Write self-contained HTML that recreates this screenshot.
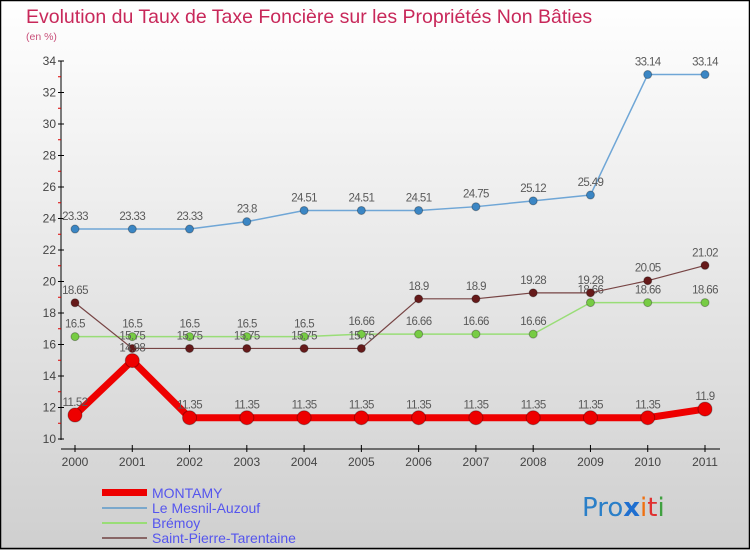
<!DOCTYPE html>
<html><head><meta charset="utf-8"><style>
body{margin:0}
#c{width:750px;height:550px;position:relative;overflow:hidden;background:linear-gradient(#ffffff,#cfcfcf);font-family:"Liberation Sans",sans-serif}
</style></head><body>
<div id="c">
<svg id="s" width="750" height="550" xmlns="http://www.w3.org/2000/svg">
<rect x="0.5" y="0.5" width="749" height="548" fill="none" stroke="#000" stroke-width="1.5"/>
<text x="26" y="23" font-size="19.5" fill="#c8285a">Evolution du Taux de Taxe Foncière sur les Propriétés Non Bâties</text>
<text x="26" y="40" font-size="10.5" fill="#c8507a">(en %)</text>
<g id="axes"></g><g id="series"></g>
<g>
<rect x="102" y="489" width="45" height="7" fill="#ee0000"/>
<text x="152" y="498" font-size="14" fill="#5555ee">MONTAMY</text>
<line x1="102" y1="508" x2="147" y2="508" stroke="#7aa8cc" stroke-width="2"/>
<text x="152" y="513" font-size="14" fill="#5555ee">Le Mesnil-Auzouf</text>
<line x1="102" y1="523" x2="147" y2="523" stroke="#99dd77" stroke-width="2"/>
<text x="152" y="528" font-size="14" fill="#5555ee">Brémoy</text>
<line x1="102" y1="538" x2="147" y2="538" stroke="#886666" stroke-width="2"/>
<text x="152" y="543" font-size="14" fill="#5555ee">Saint-Pierre-Tarentaine</text>
</g>
<g font-size="26" font-family="'DejaVu Sans',sans-serif">
<text x="582" y="516"><tspan fill="#2a7fc8">Pro</tspan><tspan fill="#1f6fd0" font-weight="bold">x</tspan><tspan fill="#f07010">i</tspan><tspan fill="#e03030">t</tspan><tspan fill="#40a040">i</tspan></text>
</g>
</svg>
</div>
<script>
const years=["2000","2001","2002","2003","2004","2005","2006","2007","2008","2009","2010","2011"];
const yTicks=[10,12,14,16,18,20,22,24,26,28,30,32,34];
const montamy=[11.52,14.98,11.35,11.35,11.35,11.35,11.35,11.35,11.35,11.35,11.35,11.9];
const mesnil=[23.33,23.33,23.33,23.8,24.51,24.51,24.51,24.75,25.12,25.49,33.14,33.14];
const bremoy=[16.5,16.5,16.5,16.5,16.5,16.66,16.66,16.66,16.66,18.66,18.66,18.66];
const spt=[18.65,15.75,15.75,15.75,15.75,15.75,18.9,18.9,19.28,19.28,20.05,21.02];
const NS="http://www.w3.org/2000/svg";
const X=i=>75+i*(705-75)/11;
const Y=v=>439-(v-10)*(439-61)/24;
function mk(t,a,p){const e=document.createElementNS(NS,t);for(const k in a)e.setAttribute(k,a[k]);p.appendChild(e);return e;}
const ax=document.getElementById('axes');
let l=mk('line',{x1:61,y1:61,x2:61,y2:440,stroke:'#000','stroke-width':1},ax);


l=mk('line',{x1:61,y1:449,x2:720,y2:449,stroke:'#000','stroke-width':1},ax);


yTicks.forEach((v,i)=>{
 mk('line',{x1:58,y1:Y(v),x2:64,y2:Y(v),stroke:'#000'},ax);
 if(i<yTicks.length-1)mk('line',{x1:58,y1:Y(v+1),x2:61,y2:Y(v+1),stroke:'#d00'},ax);
 const t=mk('text',{x:56,y:Y(v)+4,'font-size':12,fill:'#444','text-anchor':'end'},ax);t.textContent=v;
 
 
});
years.forEach((y,i)=>{
 mk('line',{x1:X(i),y1:445,x2:X(i),y2:452,stroke:'#000'},ax);
 const t=mk('text',{x:X(i),y:466,'font-size':12,fill:'#444','text-anchor':'middle'},ax);t.textContent=y;
 
 
});
const sg=document.getElementById('series');
function series(vals,name,col,dot,w,r){
 const g=mk('g',{},sg);
 
 
 mk('polyline',{points:vals.map((v,i)=>X(i)+','+Y(v)).join(' '),fill:'none',stroke:col,'stroke-width':w,'stroke-linejoin':'round'},g);
 vals.forEach((v,i)=>{
  const c=mk('circle',{cx:X(i),cy:Y(v),r:r,fill:dot,stroke:'rgba(0,0,0,0.3)','stroke-width':1},g);
  
  
  const t=mk('text',{x:X(i),y:Y(v)-9,'font-size':11.5,fill:'#5a5a5a','text-anchor':'middle','letter-spacing':'-0.6'},g);t.textContent=v;
  
  
 });
}
series(mesnil,'series-mesnil','#6fa6d6','#3b86c4',1.5,4);
series(bremoy,'series-bremoy','#99dd77','#77cc44',1.5,4);
series(spt,'series-spt','#774444','#661a1a',1.2,4);
series(montamy,'series-montamy','#ee0000','#ee0000',7,7);
</script>
</body></html>
